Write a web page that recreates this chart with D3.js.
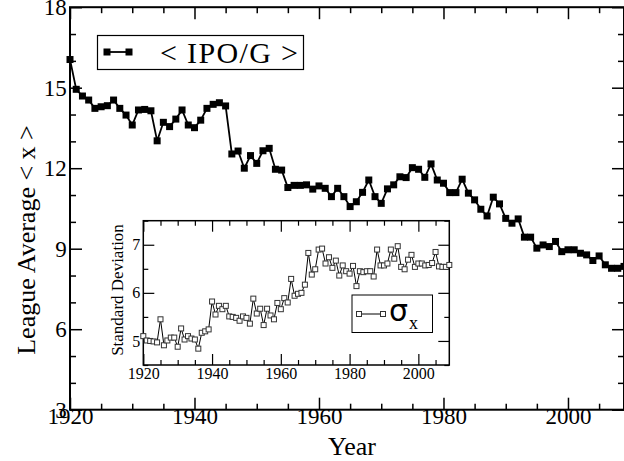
<!DOCTYPE html>
<html><head><meta charset="utf-8">
<script src="https://cdn.jsdelivr.net/npm/d3@7"></script>
<style>
body{margin:0;background:#fff;}
svg{display:block;}
svg text{font-family:"Liberation Serif","Times New Roman",Times,"Nimbus Roman","DejaVu Serif",serif !important;fill:#000;}
svg text.sym{font-family:"DejaVu Sans",sans-serif !important;}
</style></head>
<body><div id="chart"></div>
<script>
const years = d3.range(1920, 2010);
const ipoPerGame = [16.05,14.94,14.69,14.54,14.23,14.29,14.33,14.54,14.23,13.98,
13.61,14.17,14.19,14.14,13.02,13.71,13.55,13.83,14.17,13.61,
13.51,13.79,14.23,14.38,14.44,14.32,12.53,12.64,12.00,12.47,
12.18,12.65,12.74,11.96,11.93,11.28,11.36,11.36,11.38,11.22,
11.34,11.25,10.94,11.25,10.94,10.57,10.75,11.10,11.56,10.94,
10.69,11.23,11.38,11.68,11.65,12.02,11.96,11.66,12.16,11.56,
11.44,11.09,11.09,11.59,11.07,10.82,10.47,10.22,10.92,10.67,
10.13,9.95,10.11,9.43,9.43,9.02,9.14,9.08,9.27,8.89,
8.96,8.96,8.83,8.77,8.56,8.73,8.40,8.27,8.27,8.34];
const stdDev = [5.10,5.01,5.00,4.99,4.97,5.45,4.91,5.01,5.07,5.07,
4.88,5.26,5.03,5.10,5.05,5.03,4.84,5.17,5.20,5.24,
5.82,5.55,5.73,5.66,5.73,5.51,5.50,5.48,5.42,5.51,
5.48,5.36,5.88,5.57,5.67,5.33,5.67,5.53,5.45,5.79,
5.66,5.89,5.80,6.29,5.94,5.98,6.00,6.17,6.83,6.38,
6.49,6.90,6.92,6.61,6.74,6.52,6.67,6.36,6.57,6.45,
6.40,6.56,6.14,6.45,6.43,6.45,6.45,6.34,6.90,6.57,
6.57,6.61,6.90,6.71,6.97,6.54,6.49,6.69,6.79,6.54,
6.61,6.61,6.57,6.58,6.62,6.85,6.55,6.54,6.54,6.58];
const mainXTicks = [1920,1940,1960,1980,2000];
const mainYTicks = [3,6,9,12,15,18];
const insetXTicks = [1920,1940,1960,1980,2000];
const insetYTicks = [5,6,7];
const labels = {x:"Year", y:"League Average < x >", insetY:"Standard Deviation", legendMain:"< IPO/G >", legendInset:"σ", legendInsetSub:"x"};

const W = 624, H = 461;
const svg = d3.select("#chart").append("svg").attr("width", W).attr("height", H);

function drawAxes(g, x, y, o) {
  const [x0,x1] = x.range(), [y0,y1] = y.range();
  const xMinor = d3.range(x.domain()[0], x.domain()[1]+0.001, o.xMinorStep).filter(v => !o.xTicks.includes(v));
  const yMinor = d3.range(y.domain()[0], y.domain()[1]+0.001, o.yMinorStep).filter(v => !o.yTicks.includes(v));
  const mk = (axis, tr, vals, size, labelsOn) => {
    const a = g.append("g").attr("transform", tr)
      .call(axis.tickValues(vals).tickSizeInner(-size).tickSizeOuter(0).tickPadding(o.pad).tickFormat(labelsOn ? d3.format("d") : ""));
    a.attr("font-family", null);
    a.select(".domain").remove();
    a.selectAll("line").attr("stroke","#000").attr("stroke-width", o.tickW);
    a.selectAll("text").attr("font-size", o.fs).attr("fill","#000");
    return a;
  };
  const bx = mk(d3.axisBottom(x), `translate(0,${y0})`, o.xTicks, o.major, true);
  mk(d3.axisBottom(x), `translate(0,${y0})`, xMinor, o.minor, false);
  mk(d3.axisTop(x), `translate(0,${y1})`, o.xTicks, o.major, false);
  mk(d3.axisTop(x), `translate(0,${y1})`, xMinor, o.minor, false);
  const ly = mk(d3.axisLeft(y), `translate(${x0},0)`, o.yTicks, o.major, true);
  mk(d3.axisLeft(y), `translate(${x0},0)`, yMinor, o.minor, false);
  mk(d3.axisRight(y), `translate(${x1},0)`, o.yTicks, o.major, false);
  mk(d3.axisRight(y), `translate(${x1},0)`, yMinor, o.minor, false);
  g.append("rect").attr("x", x0).attr("y", y1).attr("width", x1-x0).attr("height", y0-y1)
    .attr("fill","none").attr("stroke","#000").attr("stroke-width", o.frameW);
  return {bx, ly};
}

// ---- main chart ----
const x = d3.scaleLinear().domain([1920, 2009]).range([70, 624]);
const y = d3.scaleLinear().domain([3, 18]).range([409.7, 7.2]);
const gMain = svg.append("g");
const mainAx = drawAxes(gMain, x, y, {xTicks: mainXTicks, yTicks: mainYTicks, xMinorStep: 5, yMinorStep: 1,
  major: 12, minor: 6, tickW: 1.5, frameW: 2, fs: 23, pad: 2});
mainAx.bx.selectAll("text").attr("dy", "0.55em");
mainAx.ly.selectAll("text").attr("dx", "-0.05em");

const line = d3.line().x((d,i) => x(years[i])).y(d => y(d));
gMain.append("path").datum(ipoPerGame).attr("d", line).attr("fill","none").attr("stroke","#000").attr("stroke-width",1.8);
gMain.selectAll("rect.m").data(ipoPerGame).join("rect").attr("class","m")
  .attr("x",(d,i)=>x(years[i])-3.5).attr("y",d=>y(d)-3.5).attr("width",7).attr("height",7).attr("fill","#000");

// axis titles
svg.append("text").attr("x", 352).attr("y", 455).attr("text-anchor","middle").attr("font-size",26).text(labels.x);
svg.append("text").attr("transform","translate(35,240) rotate(-90)").attr("text-anchor","middle").attr("font-size",26).text(labels.y);

// main legend
const lg = svg.append("g");
lg.append("rect").attr("x",97.5).attr("y",35.5).attr("width",206).attr("height",34).attr("fill","#fff").attr("stroke","#000").attr("stroke-width",1.2);
lg.append("line").attr("x1",107).attr("x2",129).attr("y1",52).attr("y2",52).attr("stroke","#000").attr("stroke-width",1.8);
[107,129].forEach(cx => lg.append("rect").attr("x",cx-3.5).attr("y",48.5).attr("width",7).attr("height",7).attr("fill","#000"));
lg.append("text").attr("x",160).attr("y",63).attr("font-size",30).attr("textLength",138).attr("lengthAdjust","spacing").text(labels.legendMain);

// ---- inset ----
const xi = d3.scaleLinear().domain([1920, 2009]).range([143.3, 449.3]);
const yi = d3.scaleLinear().domain([4.5, 7.5]).range([365, 220.7]);
const gIn = svg.append("g");
gIn.append("rect").attr("x",143.3).attr("y",220.7).attr("width",306).attr("height",144.3).attr("fill","#fff");
const inAx = drawAxes(gIn, xi, yi, {xTicks: insetXTicks, yTicks: insetYTicks, xMinorStep: 5, yMinorStep: 0.5,
  major: 11, minor: 5, tickW: 1.2, frameW: 1.5, fs: 16, pad: 3});
inAx.bx.selectAll("text").attr("dy","0.7em");
const linei = d3.line().x((d,i) => xi(years[i])).y(d => yi(d));
gIn.append("path").datum(stdDev).attr("d", linei).attr("fill","none").attr("stroke","#000").attr("stroke-width",1);
gIn.selectAll("rect.s").data(stdDev).join("rect").attr("class","s")
  .attr("x",(d,i)=>xi(years[i])-2.5).attr("y",d=>yi(d)-2.5).attr("width",5).attr("height",5)
  .attr("fill","#fff").attr("stroke","#333").attr("stroke-width",1);
svg.append("text").attr("transform","translate(123,290) rotate(-90)").attr("text-anchor","middle").attr("font-size",17).text(labels.insetY);

// inset legend
const il = svg.append("g");
il.append("rect").attr("x",352).attr("y",295).attr("width",80.5).attr("height",37.5).attr("fill","#fff").attr("stroke","#000").attr("stroke-width",1);
il.append("line").attr("x1",359).attr("x2",383).attr("y1",314).attr("y2",314).attr("stroke","#000").attr("stroke-width",1);
[359,383].forEach(cx => il.append("rect").attr("x",cx-2.5).attr("y",311.5).attr("width",5).attr("height",5).attr("fill","#fff").attr("stroke","#333"));
il.append("text").attr("class","sym").attr("x",389).attr("y",321).attr("font-size",30).text(labels.legendInset);
il.append("text").attr("x",409).attr("y",329).attr("font-size",18).text(labels.legendInsetSub);
</script></body></html>
